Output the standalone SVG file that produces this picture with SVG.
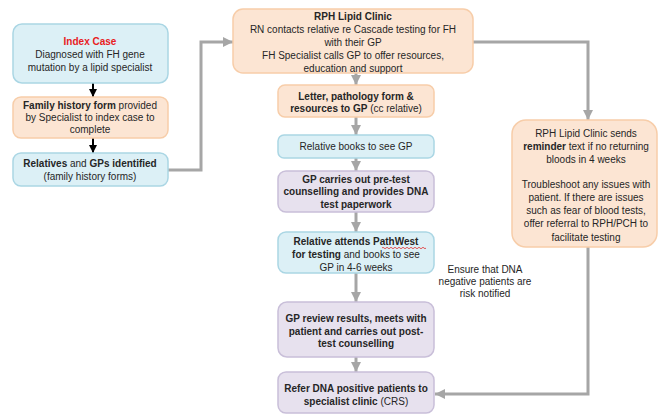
<svg xmlns="http://www.w3.org/2000/svg" width="658" height="415" viewBox="0 0 658 415">
<defs>
<style>
text{font-family:"Liberation Sans",Arial,sans-serif;font-size:10px;fill:#262626;text-anchor:middle}
.b{font-weight:bold}
.red{fill:#e8201e;font-weight:bold}
.blue{fill:#dcf0f6;stroke:#aad6e4;stroke-width:1.5}
.orange{fill:#fce5d3;stroke:#f7cda9;stroke-width:1.5}
.purple{fill:#e7e1ee;stroke:#c9bfd9;stroke-width:1.5}
.g{fill:none;stroke:#a6a6a6;stroke-width:3}
.k{fill:none;stroke:#000;stroke-width:2}
</style>
<marker id="ga" viewBox="0 0 10 10" refX="10" refY="5" markerWidth="10" markerHeight="10" markerUnits="userSpaceOnUse" orient="auto"><path d="M0,0 L10,5 L0,10 z" fill="#a6a6a6"/></marker>
<marker id="ka" viewBox="0 0 10 10" refX="10" refY="5" markerWidth="8" markerHeight="8" markerUnits="userSpaceOnUse" orient="auto"><path d="M0,0 L10,5 L0,10 z" fill="#000"/></marker>
</defs>
<rect width="658" height="415" fill="#fff"/>
<g id="connectors">
<line class="k" x1="93" y1="83" x2="93" y2="97" marker-end="url(#ka)"/>
<line class="k" x1="93" y1="138" x2="93" y2="153" marker-end="url(#ka)"/>
<path class="g" d="M168,170 H201 V42 H233" marker-end="url(#ga)"/>
<path class="g" d="M473,42 H588 V120" marker-end="url(#ga)"/>
<path class="g" d="M588,247 V394 H435" marker-end="url(#ga)"/>
<line class="g" x1="356" y1="73" x2="356" y2="85" marker-end="url(#ga)"/>
<line class="g" x1="356" y1="117" x2="356" y2="135" marker-end="url(#ga)"/>
<line class="g" x1="356" y1="158" x2="356" y2="171" marker-end="url(#ga)"/>
<line class="g" x1="356" y1="212" x2="356" y2="232" marker-end="url(#ga)"/>
<line class="g" x1="356" y1="273" x2="356" y2="302" marker-end="url(#ga)"/>
<line class="g" x1="356" y1="357" x2="356" y2="372" marker-end="url(#ga)"/>
</g>
<g id="index-case">
<rect class="blue" x="13" y="24" width="155" height="59" rx="9"/>
<text x="90" y="45" class="red">Index Case</text>
<text x="90" y="58">Diagnosed with FH gene</text>
<text x="90" y="71">mutation by a lipid specialist</text>
</g>
<g id="family-history">
<rect class="orange" x="13" y="97" width="155" height="41" rx="8"/>
<text x="90" y="109"><tspan class="b">Family history form</tspan> provided</text>
<text x="90" y="121">by Specialist to index case to</text>
<text x="90" y="133">complete</text>
</g>
<g id="relatives">
<rect class="blue" x="13" y="153" width="155" height="33" rx="8"/>
<text x="90" y="167"><tspan class="b">Relatives</tspan> and <tspan class="b">GPs identified</tspan></text>
<text x="90" y="180">(family history forms)</text>
</g>
<g id="rph-clinic">
<rect class="orange" x="233" y="9" width="240" height="64" rx="10"/>
<text x="353" y="20" class="b">RPH Lipid Clinic</text>
<text x="353" y="33">RN contacts relative re  Cascade testing for FH</text>
<text x="353" y="46">with their GP</text>
<text x="353" y="59">FH Specialist calls GP to offer resources,</text>
<text x="353" y="72">education and support</text>
</g>
<g id="letter">
<rect class="orange" x="278" y="85" width="156" height="32" rx="7"/>
<text x="356" y="100" class="b">Letter, pathology form &amp;</text>
<text x="356" y="112"><tspan class="b">resources to GP</tspan> (cc relative)</text>
</g>
<g id="relative-books">
<rect class="blue" x="278" y="135" width="156" height="23" rx="6"/>
<text x="356" y="150">Relative books to see GP</text>
</g>
<g id="gp-pretest">
<rect class="purple" x="278" y="171" width="156" height="41" rx="8"/>
<text x="356" y="183" class="b">GP carries out pre-test</text>
<text x="356" y="195" class="b">counselling and provides DNA</text>
<text x="356" y="208" class="b">test paperwork</text>
</g>
<g id="pathwest">
<rect class="blue" x="278" y="232" width="156" height="41" rx="8"/>
<text x="356" y="245" class="b">Relative attends PathWest</text>
<path d="M382,248 q1,-1.5 2,0 t2,0 t2,0 t2,0 t2,0 t2,0 t2,0 t2,0 t2,0 t2,0 t2,0 t2,0 t2,0 t2,0 t2,0 t2,0 t2,0 t2,0 t2,0 t2,0 t2,0 t2,0" fill="none" stroke="#e23030" stroke-width="0.8"/>
<text x="356" y="258"><tspan class="b">for testing</tspan> and books to see</text>
<text x="356" y="271">GP  in 4-6 weeks</text>
</g>
<g id="gp-review">
<rect class="purple" x="278" y="302" width="156" height="55" rx="9"/>
<text x="356" y="322" class="b">GP review results, meets with</text>
<text x="356" y="335" class="b">patient and carries out post-</text>
<text x="356" y="347" class="b">test counselling</text>
</g>
<g id="refer">
<rect class="purple" x="278" y="372" width="156" height="41" rx="8"/>
<text x="356" y="392"><tspan class="b">Refer DNA positive patients to</tspan></text>
<text x="356" y="405"><tspan class="b">specialist clinic</tspan> (CRS)</text>
</g>
<g id="reminder">
<rect class="orange" x="512" y="120" width="145" height="127" rx="14"/>
<text x="586" y="137">RPH Lipid Clinic sends</text>
<text x="586" y="150"><tspan class="b">reminder</tspan> text if no returning</text>
<text x="586" y="163">bloods in 4 weeks</text>
<text x="586" y="188">Troubleshoot any issues with</text>
<text x="586" y="201">patient. If there are issues</text>
<text x="586" y="214">such as fear of blood tests,</text>
<text x="586" y="227">offer referral to RPH/PCH to</text>
<text x="586" y="241">facilitate testing</text>
</g>
<g id="note">
<text x="485" y="273">Ensure that DNA</text>
<text x="485" y="285">negative patients are</text>
<text x="485" y="297">risk notified</text>
</g>
</svg>
